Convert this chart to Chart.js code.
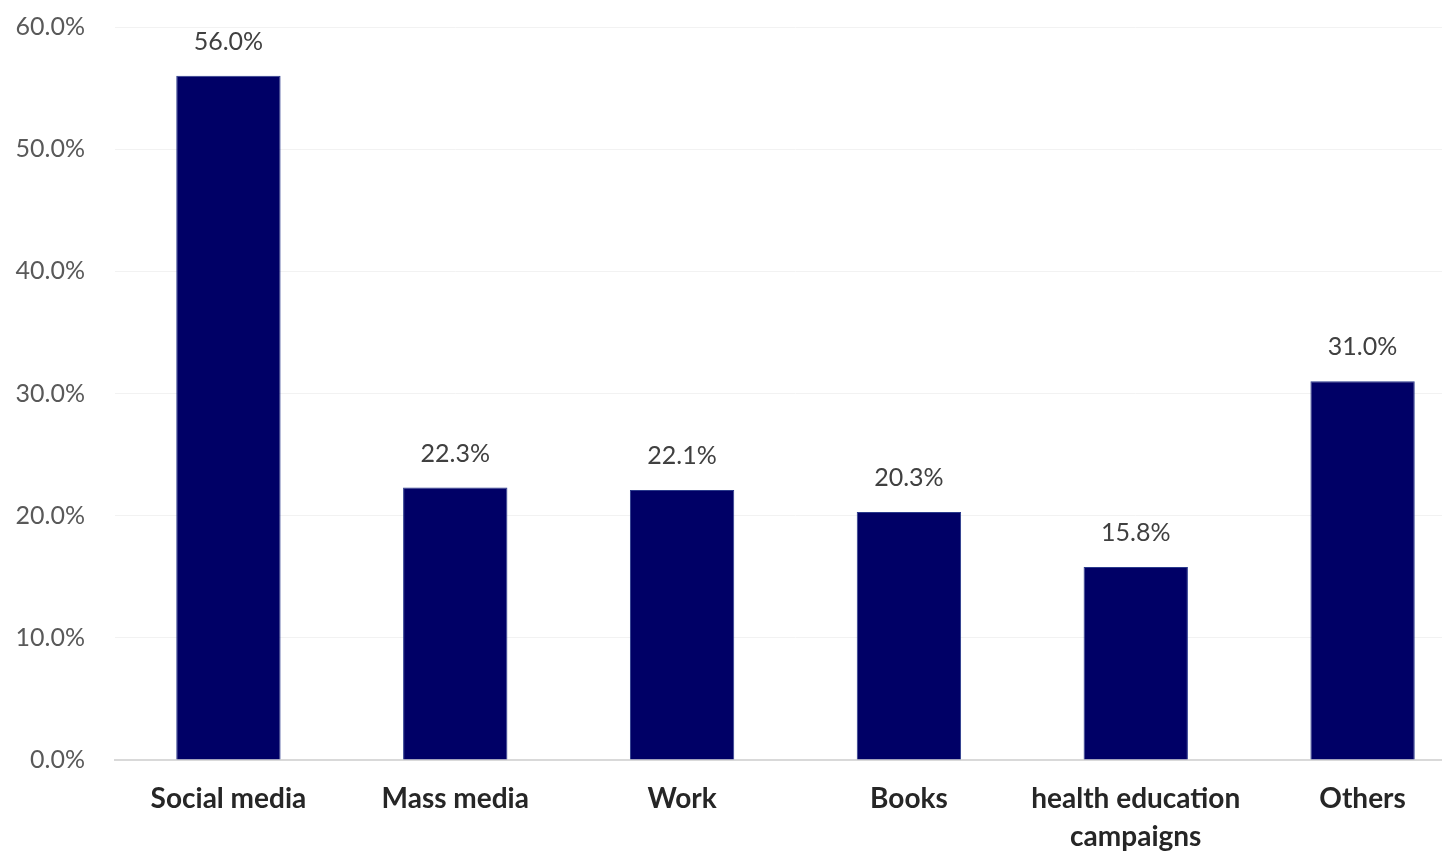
<!DOCTYPE html>
<html>
<head>
<meta charset="utf-8">
<script src="https://cdn.jsdelivr.net/npm/chart.js@4/dist/chart.umd.min.js"></script>
<style>
    html, body {
        margin: 0;
        padding: 0;
        background: #ffffff;
        overflow: hidden;
    }
    #wrap {
        position: relative;
        width: 1476px;
        height: 852px;
    }
</style>
</head>
<body>
<div id="wrap"><canvas id="graph"></canvas></div>
<script>
const categories = [
    'Social media',
    'Mass media',
    'Work',
    'Books',
    ['health education', 'campaigns'],
    'Others'
];
const shares = [56.0, 22.3, 22.1, 20.3, 15.8, 31.0];
const yTicks = [0, 10, 20, 30, 40, 50, 60];

// writes the percentage above each bar
const valueLabels = {
    id: 'valueLabels',
    afterDatasetsDraw(chart) {
        const ctx = chart.ctx;
        const meta = chart.getDatasetMeta(0);

        ctx.save();
        ctx.font = '400 25px Lato';
        ctx.fillStyle = '#404040';
        ctx.textAlign = 'center';
        ctx.textBaseline = 'middle';
        meta.data.forEach((bar, i) => {
            ctx.fillText(shares[i].toFixed(1) + '%', bar.x, bar.y - 34);
        });
        ctx.restore();
    }
};

new Chart(
    document.getElementById('graph'),
    {
        type: 'bar',
        data: {
            labels: categories,
            datasets: [{
                data: shares,
                backgroundColor: '#000066',
                borderColor: '#2a3a8c',
                borderWidth: 1,
                categoryPercentage: 1,
                barPercentage: 0.46
            }]
        },
        options: {
            responsive: true,
            maintainAspectRatio: false,
            animation: false,
            layout: {
                padding: 0
            },
            plugins: {
                legend: { display: false },
                tooltip: { enabled: false }
            },
            scales: {
                x: {
                    grid: { display: false, drawTicks: false },
                    border: { display: true, color: '#d9d9d9', width: 2 },
                    ticks: {
                        color: '#262626',
                        font: { family: 'Lato', size: 28, weight: 'bold', lineHeight: 1.36 },
                        padding: 20,
                        maxRotation: 0,
                        autoSkip: false
                    },
                    afterFit(scale) {
                        scale.height = 92;
                        scale.paddingLeft = 0;
                        scale.paddingRight = 0;
                    }
                },
                y: {
                    min: 0,
                    max: 60,
                    afterBuildTicks(scale) {
                        scale.ticks = yTicks.map(v => ({ value: v }));
                    },
                    grid: { color: '#f2f2f2', lineWidth: 1, drawTicks: false },
                    border: { display: false },
                    ticks: {
                        color: '#595959',
                        font: { family: 'Lato', size: 25 },
                        padding: 30,
                        callback: v => v.toFixed(1) + '%'
                    },
                    afterFit(scale) {
                        scale.width = 115;
                        scale.paddingTop = 27;
                        scale.paddingBottom = 0;
                    }
                }
            }
        },
        plugins: [valueLabels]
    }
);
</script>
</body>
</html>
